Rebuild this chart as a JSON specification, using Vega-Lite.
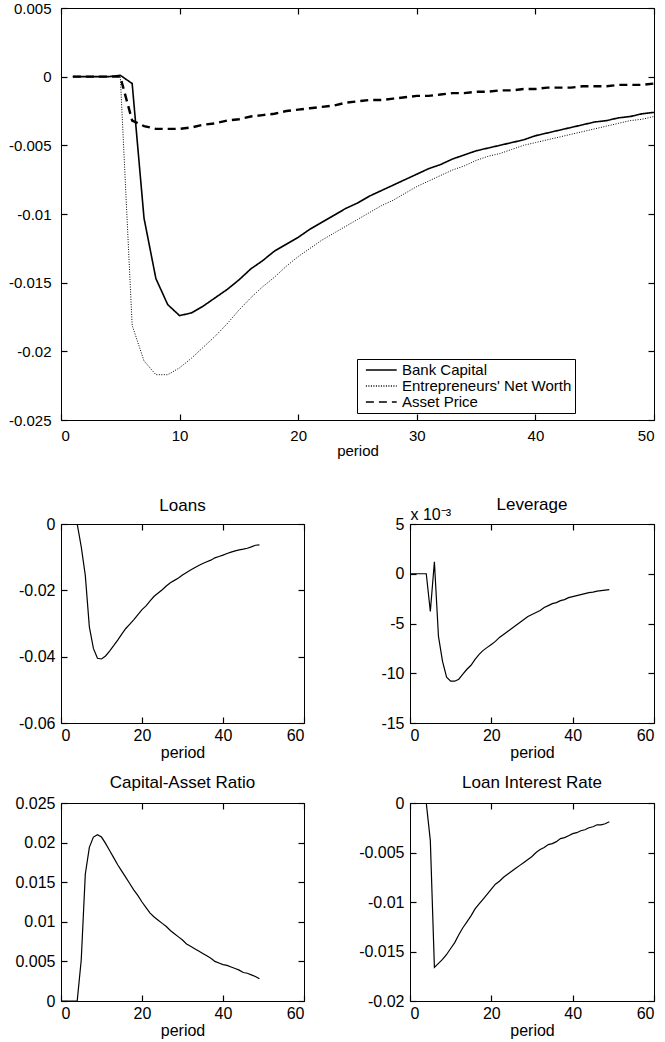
{
  "$schema": "https://vega.github.io/schema/vega-lite/v6.json",
  "padding": {"left": 7, "top": 0, "right": 0, "bottom": 0},
  "config": {
    "font": "Liberation Sans",
    "view": {"stroke": "black", "strokeWidth": 1},
    "axis": {"domain": false, "grid": false, "ticks": true, "tickColor": "black", "tickWidth": 1.2, "tickSize": 6, "offset": -6, "labelColor": "black", "titleColor": "black", "titleFontWeight": "normal", "labelFont": "Liberation Sans", "titleFont": "Liberation Sans"},
    "title": {"fontWeight": "normal", "color": "black", "fontSize": 17, "frame": "group", "font": "Liberation Sans"},
    "legend": {"orient": "none", "legendX": 296, "legendY": 351, "strokeColor": "black", "fillColor": "white", "padding": 3, "symbolType": "M-0.3,0H4.1", "symbolSize": 196, "symbolStrokeColor": "black", "symbolStrokeWidth": 1.5, "labelFontSize": 15, "labelColor": "black", "rowPadding": 0, "labelOffset": 26, "labelLimit": 400, "cornerRadius": 0, "labelFont": "Liberation Sans"}
  },
  "datasets": {
    "top": [
      {"period": 1, "series": "Bank Capital", "value": 0}, {"period": 2, "series": "Bank Capital", "value": 0}, {"period": 3, "series": "Bank Capital", "value": 0}, {"period": 4, "series": "Bank Capital", "value": 0}, {"period": 5, "series": "Bank Capital", "value": 0.0001},
      {"period": 6, "series": "Bank Capital", "value": -0.0005}, {"period": 7, "series": "Bank Capital", "value": -0.0103}, {"period": 8, "series": "Bank Capital", "value": -0.0147}, {"period": 9, "series": "Bank Capital", "value": -0.0166}, {"period": 10, "series": "Bank Capital", "value": -0.0174},
      {"period": 11, "series": "Bank Capital", "value": -0.0172}, {"period": 12, "series": "Bank Capital", "value": -0.0167}, {"period": 13, "series": "Bank Capital", "value": -0.0161}, {"period": 14, "series": "Bank Capital", "value": -0.0155}, {"period": 15, "series": "Bank Capital", "value": -0.0148},
      {"period": 16, "series": "Bank Capital", "value": -0.0140}, {"period": 17, "series": "Bank Capital", "value": -0.0134}, {"period": 18, "series": "Bank Capital", "value": -0.0127}, {"period": 19, "series": "Bank Capital", "value": -0.0122}, {"period": 20, "series": "Bank Capital", "value": -0.0117},
      {"period": 21, "series": "Bank Capital", "value": -0.0111}, {"period": 22, "series": "Bank Capital", "value": -0.0106}, {"period": 23, "series": "Bank Capital", "value": -0.0101}, {"period": 24, "series": "Bank Capital", "value": -0.0096}, {"period": 25, "series": "Bank Capital", "value": -0.0092},
      {"period": 26, "series": "Bank Capital", "value": -0.0087}, {"period": 27, "series": "Bank Capital", "value": -0.0083}, {"period": 28, "series": "Bank Capital", "value": -0.0079}, {"period": 29, "series": "Bank Capital", "value": -0.0075}, {"period": 30, "series": "Bank Capital", "value": -0.0071},
      {"period": 31, "series": "Bank Capital", "value": -0.0067}, {"period": 32, "series": "Bank Capital", "value": -0.0064}, {"period": 33, "series": "Bank Capital", "value": -0.0060}, {"period": 34, "series": "Bank Capital", "value": -0.0057}, {"period": 35, "series": "Bank Capital", "value": -0.0054},
      {"period": 36, "series": "Bank Capital", "value": -0.0052}, {"period": 37, "series": "Bank Capital", "value": -0.0050}, {"period": 38, "series": "Bank Capital", "value": -0.0048}, {"period": 39, "series": "Bank Capital", "value": -0.0046}, {"period": 40, "series": "Bank Capital", "value": -0.0043},
      {"period": 41, "series": "Bank Capital", "value": -0.0041}, {"period": 42, "series": "Bank Capital", "value": -0.0039}, {"period": 43, "series": "Bank Capital", "value": -0.0037}, {"period": 44, "series": "Bank Capital", "value": -0.0035}, {"period": 45, "series": "Bank Capital", "value": -0.0033},
      {"period": 46, "series": "Bank Capital", "value": -0.0032}, {"period": 47, "series": "Bank Capital", "value": -0.0030}, {"period": 48, "series": "Bank Capital", "value": -0.0029}, {"period": 49, "series": "Bank Capital", "value": -0.0027}, {"period": 50, "series": "Bank Capital", "value": -0.0026},
      {"period": 1, "series": "Entrepreneurs' Net Worth", "value": 0}, {"period": 2, "series": "Entrepreneurs' Net Worth", "value": 0}, {"period": 3, "series": "Entrepreneurs' Net Worth", "value": 0}, {"period": 4, "series": "Entrepreneurs' Net Worth", "value": 0}, {"period": 5, "series": "Entrepreneurs' Net Worth", "value": 0},
      {"period": 6, "series": "Entrepreneurs' Net Worth", "value": -0.0181}, {"period": 7, "series": "Entrepreneurs' Net Worth", "value": -0.0207}, {"period": 8, "series": "Entrepreneurs' Net Worth", "value": -0.0217}, {"period": 9, "series": "Entrepreneurs' Net Worth", "value": -0.0217}, {"period": 10, "series": "Entrepreneurs' Net Worth", "value": -0.0212},
      {"period": 11, "series": "Entrepreneurs' Net Worth", "value": -0.0205}, {"period": 12, "series": "Entrepreneurs' Net Worth", "value": -0.0197}, {"period": 13, "series": "Entrepreneurs' Net Worth", "value": -0.0189}, {"period": 14, "series": "Entrepreneurs' Net Worth", "value": -0.0180}, {"period": 15, "series": "Entrepreneurs' Net Worth", "value": -0.0170},
      {"period": 16, "series": "Entrepreneurs' Net Worth", "value": -0.0161}, {"period": 17, "series": "Entrepreneurs' Net Worth", "value": -0.0153}, {"period": 18, "series": "Entrepreneurs' Net Worth", "value": -0.0146}, {"period": 19, "series": "Entrepreneurs' Net Worth", "value": -0.0138}, {"period": 20, "series": "Entrepreneurs' Net Worth", "value": -0.0131},
      {"period": 21, "series": "Entrepreneurs' Net Worth", "value": -0.0125}, {"period": 22, "series": "Entrepreneurs' Net Worth", "value": -0.0119}, {"period": 23, "series": "Entrepreneurs' Net Worth", "value": -0.0114}, {"period": 24, "series": "Entrepreneurs' Net Worth", "value": -0.0109}, {"period": 25, "series": "Entrepreneurs' Net Worth", "value": -0.0104},
      {"period": 26, "series": "Entrepreneurs' Net Worth", "value": -0.0099}, {"period": 27, "series": "Entrepreneurs' Net Worth", "value": -0.0094}, {"period": 28, "series": "Entrepreneurs' Net Worth", "value": -0.0090}, {"period": 29, "series": "Entrepreneurs' Net Worth", "value": -0.0085}, {"period": 30, "series": "Entrepreneurs' Net Worth", "value": -0.0080},
      {"period": 31, "series": "Entrepreneurs' Net Worth", "value": -0.0076}, {"period": 32, "series": "Entrepreneurs' Net Worth", "value": -0.0072}, {"period": 33, "series": "Entrepreneurs' Net Worth", "value": -0.0068}, {"period": 34, "series": "Entrepreneurs' Net Worth", "value": -0.0065}, {"period": 35, "series": "Entrepreneurs' Net Worth", "value": -0.0061},
      {"period": 36, "series": "Entrepreneurs' Net Worth", "value": -0.0058}, {"period": 37, "series": "Entrepreneurs' Net Worth", "value": -0.0056}, {"period": 38, "series": "Entrepreneurs' Net Worth", "value": -0.0053}, {"period": 39, "series": "Entrepreneurs' Net Worth", "value": -0.0050}, {"period": 40, "series": "Entrepreneurs' Net Worth", "value": -0.0048},
      {"period": 41, "series": "Entrepreneurs' Net Worth", "value": -0.0046}, {"period": 42, "series": "Entrepreneurs' Net Worth", "value": -0.0044}, {"period": 43, "series": "Entrepreneurs' Net Worth", "value": -0.0042}, {"period": 44, "series": "Entrepreneurs' Net Worth", "value": -0.0040}, {"period": 45, "series": "Entrepreneurs' Net Worth", "value": -0.0038},
      {"period": 46, "series": "Entrepreneurs' Net Worth", "value": -0.0036}, {"period": 47, "series": "Entrepreneurs' Net Worth", "value": -0.0034}, {"period": 48, "series": "Entrepreneurs' Net Worth", "value": -0.0032}, {"period": 49, "series": "Entrepreneurs' Net Worth", "value": -0.0031}, {"period": 50, "series": "Entrepreneurs' Net Worth", "value": -0.0029},
      {"period": 1, "series": "Asset Price", "value": 0}, {"period": 2, "series": "Asset Price", "value": 0}, {"period": 3, "series": "Asset Price", "value": 0}, {"period": 4, "series": "Asset Price", "value": 0}, {"period": 5, "series": "Asset Price", "value": 0},
      {"period": 6, "series": "Asset Price", "value": -0.0032}, {"period": 7, "series": "Asset Price", "value": -0.0036}, {"period": 8, "series": "Asset Price", "value": -0.0038}, {"period": 9, "series": "Asset Price", "value": -0.0038}, {"period": 10, "series": "Asset Price", "value": -0.0038},
      {"period": 11, "series": "Asset Price", "value": -0.0037}, {"period": 12, "series": "Asset Price", "value": -0.0035}, {"period": 13, "series": "Asset Price", "value": -0.0034}, {"period": 14, "series": "Asset Price", "value": -0.0032}, {"period": 15, "series": "Asset Price", "value": -0.0031},
      {"period": 16, "series": "Asset Price", "value": -0.0029}, {"period": 17, "series": "Asset Price", "value": -0.0028}, {"period": 18, "series": "Asset Price", "value": -0.0027}, {"period": 19, "series": "Asset Price", "value": -0.0025}, {"period": 20, "series": "Asset Price", "value": -0.0024},
      {"period": 21, "series": "Asset Price", "value": -0.0023}, {"period": 22, "series": "Asset Price", "value": -0.0022}, {"period": 23, "series": "Asset Price", "value": -0.0021}, {"period": 24, "series": "Asset Price", "value": -0.0019}, {"period": 25, "series": "Asset Price", "value": -0.0018},
      {"period": 26, "series": "Asset Price", "value": -0.0017}, {"period": 27, "series": "Asset Price", "value": -0.0017}, {"period": 28, "series": "Asset Price", "value": -0.0016}, {"period": 29, "series": "Asset Price", "value": -0.0015}, {"period": 30, "series": "Asset Price", "value": -0.0014},
      {"period": 31, "series": "Asset Price", "value": -0.0014}, {"period": 32, "series": "Asset Price", "value": -0.0013}, {"period": 33, "series": "Asset Price", "value": -0.0012}, {"period": 34, "series": "Asset Price", "value": -0.0012}, {"period": 35, "series": "Asset Price", "value": -0.0011},
      {"period": 36, "series": "Asset Price", "value": -0.0011}, {"period": 37, "series": "Asset Price", "value": -0.0010}, {"period": 38, "series": "Asset Price", "value": -0.0010}, {"period": 39, "series": "Asset Price", "value": -0.0009}, {"period": 40, "series": "Asset Price", "value": -0.0009},
      {"period": 41, "series": "Asset Price", "value": -0.0008}, {"period": 42, "series": "Asset Price", "value": -0.0008}, {"period": 43, "series": "Asset Price", "value": -0.0008}, {"period": 44, "series": "Asset Price", "value": -0.0007}, {"period": 45, "series": "Asset Price", "value": -0.0007},
      {"period": 46, "series": "Asset Price", "value": -0.0007}, {"period": 47, "series": "Asset Price", "value": -0.0006}, {"period": 48, "series": "Asset Price", "value": -0.0006}, {"period": 49, "series": "Asset Price", "value": -0.0006}, {"period": 50, "series": "Asset Price", "value": -0.0005}
    ],
    "loans": [
      {"period": 0, "value": 0}, {"period": 1, "value": 0}, {"period": 2, "value": 0}, {"period": 3, "value": 0}, {"period": 4, "value": 0},
      {"period": 5, "value": -0.0069}, {"period": 6, "value": -0.0155}, {"period": 7, "value": -0.031}, {"period": 8, "value": -0.0375}, {"period": 9, "value": -0.0405},
      {"period": 10, "value": -0.0407}, {"period": 11, "value": -0.0398}, {"period": 12, "value": -0.0383}, {"period": 13, "value": -0.0367}, {"period": 14, "value": -0.0350},
      {"period": 15, "value": -0.0332}, {"period": 16, "value": -0.0315}, {"period": 17, "value": -0.0302}, {"period": 18, "value": -0.0288}, {"period": 19, "value": -0.0273},
      {"period": 20, "value": -0.0258}, {"period": 21, "value": -0.0247}, {"period": 22, "value": -0.0232}, {"period": 23, "value": -0.0218}, {"period": 24, "value": -0.0208},
      {"period": 25, "value": -0.0198}, {"period": 26, "value": -0.0187}, {"period": 27, "value": -0.0177}, {"period": 28, "value": -0.0170}, {"period": 29, "value": -0.0163},
      {"period": 30, "value": -0.0154}, {"period": 31, "value": -0.0146}, {"period": 32, "value": -0.0139}, {"period": 33, "value": -0.0132}, {"period": 34, "value": -0.0125},
      {"period": 35, "value": -0.0119}, {"period": 36, "value": -0.0114}, {"period": 37, "value": -0.0109}, {"period": 38, "value": -0.0102}, {"period": 39, "value": -0.0098},
      {"period": 40, "value": -0.0094}, {"period": 41, "value": -0.0089}, {"period": 42, "value": -0.0085}, {"period": 43, "value": -0.0081}, {"period": 44, "value": -0.0078},
      {"period": 45, "value": -0.0076}, {"period": 46, "value": -0.0073}, {"period": 47, "value": -0.0069}, {"period": 48, "value": -0.0064}, {"period": 49, "value": -0.0063}
    ],
    "leverage": [
      {"period": 0, "value": 0}, {"period": 1, "value": 0}, {"period": 2, "value": 0}, {"period": 3, "value": 0}, {"period": 4, "value": 0},
      {"period": 5, "value": -0.0038}, {"period": 6, "value": 0.0012}, {"period": 7, "value": -0.0063}, {"period": 8, "value": -0.0088}, {"period": 9, "value": -0.0104},
      {"period": 10, "value": -0.0108}, {"period": 11, "value": -0.0108}, {"period": 12, "value": -0.0106}, {"period": 13, "value": -0.0101}, {"period": 14, "value": -0.0096},
      {"period": 15, "value": -0.0092}, {"period": 16, "value": -0.0086}, {"period": 17, "value": -0.0081}, {"period": 18, "value": -0.0077}, {"period": 19, "value": -0.0074},
      {"period": 20, "value": -0.0071}, {"period": 21, "value": -0.0068}, {"period": 22, "value": -0.0064}, {"period": 23, "value": -0.0061}, {"period": 24, "value": -0.0058},
      {"period": 25, "value": -0.0055}, {"period": 26, "value": -0.0052}, {"period": 27, "value": -0.0049}, {"period": 28, "value": -0.0046}, {"period": 29, "value": -0.0043},
      {"period": 30, "value": -0.0041}, {"period": 31, "value": -0.0039}, {"period": 32, "value": -0.0037}, {"period": 33, "value": -0.0034}, {"period": 34, "value": -0.0032},
      {"period": 35, "value": -0.0030}, {"period": 36, "value": -0.0029}, {"period": 37, "value": -0.0027}, {"period": 38, "value": -0.0026}, {"period": 39, "value": -0.0024},
      {"period": 40, "value": -0.0023}, {"period": 41, "value": -0.0022}, {"period": 42, "value": -0.0021}, {"period": 43, "value": -0.0020}, {"period": 44, "value": -0.0019},
      {"period": 45, "value": -0.00185}, {"period": 46, "value": -0.00175}, {"period": 47, "value": -0.0017}, {"period": 48, "value": -0.00165}, {"period": 49, "value": -0.0016}
    ],
    "car": [
      {"period": 0, "value": 0}, {"period": 1, "value": 0}, {"period": 2, "value": 0}, {"period": 3, "value": 0}, {"period": 4, "value": 0},
      {"period": 5, "value": 0.0052}, {"period": 6, "value": 0.0160}, {"period": 7, "value": 0.0194}, {"period": 8, "value": 0.0207}, {"period": 9, "value": 0.0210},
      {"period": 10, "value": 0.0207}, {"period": 11, "value": 0.0199}, {"period": 12, "value": 0.0190}, {"period": 13, "value": 0.0181}, {"period": 14, "value": 0.0172},
      {"period": 15, "value": 0.0164}, {"period": 16, "value": 0.0156}, {"period": 17, "value": 0.0148}, {"period": 18, "value": 0.0140}, {"period": 19, "value": 0.0133},
      {"period": 20, "value": 0.0125}, {"period": 21, "value": 0.0118}, {"period": 22, "value": 0.0111}, {"period": 23, "value": 0.0106}, {"period": 24, "value": 0.0102},
      {"period": 25, "value": 0.0098}, {"period": 26, "value": 0.0094}, {"period": 27, "value": 0.0089}, {"period": 28, "value": 0.0085}, {"period": 29, "value": 0.0081},
      {"period": 30, "value": 0.0077}, {"period": 31, "value": 0.0072}, {"period": 32, "value": 0.0069}, {"period": 33, "value": 0.0066}, {"period": 34, "value": 0.0063},
      {"period": 35, "value": 0.0060}, {"period": 36, "value": 0.0057}, {"period": 37, "value": 0.0054}, {"period": 38, "value": 0.0050}, {"period": 39, "value": 0.0048},
      {"period": 40, "value": 0.0046}, {"period": 41, "value": 0.0045}, {"period": 42, "value": 0.0043}, {"period": 43, "value": 0.0041}, {"period": 44, "value": 0.0039},
      {"period": 45, "value": 0.0036}, {"period": 46, "value": 0.0035}, {"period": 47, "value": 0.0033}, {"period": 48, "value": 0.0031}, {"period": 49, "value": 0.0028}
    ],
    "lir": [
      {"period": 0, "value": 0}, {"period": 1, "value": 0}, {"period": 2, "value": 0}, {"period": 3, "value": 0}, {"period": 4, "value": 0},
      {"period": 5, "value": -0.0038}, {"period": 6, "value": -0.0166}, {"period": 7, "value": -0.0162}, {"period": 8, "value": -0.0158}, {"period": 9, "value": -0.0153},
      {"period": 10, "value": -0.0147}, {"period": 11, "value": -0.0141}, {"period": 12, "value": -0.0133}, {"period": 13, "value": -0.0126}, {"period": 14, "value": -0.0120},
      {"period": 15, "value": -0.0114}, {"period": 16, "value": -0.0107}, {"period": 17, "value": -0.0102}, {"period": 18, "value": -0.0097}, {"period": 19, "value": -0.0092},
      {"period": 20, "value": -0.0087}, {"period": 21, "value": -0.0082}, {"period": 22, "value": -0.0079}, {"period": 23, "value": -0.0075}, {"period": 24, "value": -0.0072},
      {"period": 25, "value": -0.0069}, {"period": 26, "value": -0.0066}, {"period": 27, "value": -0.0063}, {"period": 28, "value": -0.0060}, {"period": 29, "value": -0.0057},
      {"period": 30, "value": -0.0054}, {"period": 31, "value": -0.0050}, {"period": 32, "value": -0.0047}, {"period": 33, "value": -0.0045}, {"period": 34, "value": -0.0042},
      {"period": 35, "value": -0.0041}, {"period": 36, "value": -0.0039}, {"period": 37, "value": -0.0036}, {"period": 38, "value": -0.0035}, {"period": 39, "value": -0.0033},
      {"period": 40, "value": -0.0031}, {"period": 41, "value": -0.0030}, {"period": 42, "value": -0.0028}, {"period": 43, "value": -0.0027}, {"period": 44, "value": -0.0025},
      {"period": 45, "value": -0.0024}, {"period": 46, "value": -0.0022}, {"period": 47, "value": -0.0022}, {"period": 48, "value": -0.0021}, {"period": 49, "value": -0.0019}
    ]
  },
  "spacing": 36,
  "vconcat": [
    {
      "width": 593, "height": 412,
      "data": {"name": "top"},
      "layer": [
        {
          "transform": [{"filter": "datum.series === 'Bank Capital'"}],
          "mark": {"type": "line", "color": "black", "strokeWidth": 1.6, "clip": true},
          "encoding": {
            "x": {"field": "period", "type": "quantitative", "scale": {"domain": [0, 50], "nice": false}, "axis": {"orient": "bottom", "values": [0, 10, 20, 30, 40, 50], "title": "period", "labelFontSize": 15, "titleFontSize": 15, "labelPadding": 8, "titlePadding": 0}},
            "y": {"field": "value", "type": "quantitative", "scale": {"domain": [-0.025, 0.005], "nice": false, "zero": false}, "axis": {"orient": "left", "values": [0.005, 0, -0.005, -0.01, -0.015, -0.02, -0.025], "labelExpr": "'' + datum.value", "title": null, "labelFontSize": 15, "labelPadding": 10}},
            "strokeDash": {"field": "series", "type": "nominal", "scale": {"domain": ["Bank Capital", "Entrepreneurs' Net Worth", "Asset Price"], "range": [[1, 0], [1, 1.5], [8, 5]]}, "legend": {"title": null}}
          }
        },
        {
          "transform": [{"filter": "datum.series === 'Entrepreneurs\\' Net Worth'"}],
          "mark": {"type": "line", "color": "black", "strokeWidth": 1, "clip": true},
          "encoding": {
            "x": {"field": "period", "type": "quantitative", "axis": null},
            "y": {"field": "value", "type": "quantitative", "axis": null},
            "strokeDash": {"field": "series", "type": "nominal", "legend": {"title": null}}
          }
        },
        {
          "transform": [{"filter": "datum.series === 'Asset Price'"}],
          "mark": {"type": "line", "color": "black", "strokeWidth": 2.4, "clip": true},
          "encoding": {
            "x": {"field": "period", "type": "quantitative", "axis": null},
            "y": {"field": "value", "type": "quantitative", "axis": null},
            "strokeDash": {"field": "series", "type": "nominal", "legend": {"title": null}}
          }
        },
        {
          "mark": {"type": "point", "opacity": 0},
          "encoding": {
            "x": {"field": "period", "type": "quantitative", "axis": {"orient": "top", "values": [0, 10, 20, 30, 40, 50], "labels": false, "title": null}},
            "y": {"field": "value", "type": "quantitative", "axis": {"orient": "right", "values": [0.005, 0, -0.005, -0.01, -0.015, -0.02, -0.025], "labels": false, "title": null}}
          }
        }
      ],
      "resolve": {"axis": {"x": "independent", "y": "independent"}}
    },
    {
      "spacing": 12,
      "vconcat": [
        {
          "spacing": 74,
          "hconcat": [
            {
              "width": 243, "height": 199,
              "data": {"name": "loans"},
              "title": {"text": "Loans", "offset": 1},
              "layer": [
                {"mark": {"type": "line", "color": "black", "strokeWidth": 1.2, "clip": true},
                 "encoding": {
                   "x": {"field": "period", "type": "quantitative", "scale": {"domain": [0, 60], "nice": false}, "axis": {"orient": "bottom", "values": [0, 20, 40, 60], "title": "period", "labelFontSize": 16, "titleFontSize": 16, "labelPadding": 4, "titlePadding": 1}},
                   "y": {"field": "value", "type": "quantitative", "scale": {"domain": [-0.06, 0], "nice": false, "zero": false}, "axis": {"orient": "left", "values": [0, -0.02, -0.04, -0.06], "labelExpr": "'' + datum.value", "title": null, "labelFontSize": 16, "labelPadding": 6}}
                 }},
                {"mark": {"type": "point", "opacity": 0},
                 "encoding": {
                   "x": {"field": "period", "type": "quantitative", "axis": {"orient": "top", "values": [0, 20, 40, 60], "labels": false, "title": null}},
                   "y": {"field": "value", "type": "quantitative", "axis": {"orient": "right", "values": [0, -0.02, -0.04, -0.06], "labels": false, "title": null}}
                 }}
              ],
              "resolve": {"axis": {"x": "independent", "y": "independent"}}
            },
            {
              "width": 244, "height": 199,
              "data": {"name": "leverage"},
              "title": {"text": "Leverage", "offset": -8},
              "layer": [
                {"mark": {"type": "line", "color": "black", "strokeWidth": 1.2, "clip": true},
                 "encoding": {
                   "x": {"field": "period", "type": "quantitative", "scale": {"domain": [0, 60], "nice": false}, "axis": {"orient": "bottom", "values": [0, 20, 40, 60], "title": "period", "labelFontSize": 16, "titleFontSize": 16, "labelPadding": 4, "titlePadding": 1}},
                   "y": {"field": "value", "type": "quantitative", "scale": {"domain": [-0.015, 0.005], "nice": false, "zero": false}, "axis": {"orient": "left", "values": [0.005, 0, -0.005, -0.01, -0.015], "labelExpr": "'' + round(datum.value * 1000)", "title": "x 10⁻³", "titleAngle": 0, "titleX": -6, "titleY": -5, "titleAlign": "left", "titleBaseline": "alphabetic", "titleFontSize": 16, "labelFontSize": 16, "labelPadding": 6}}
                 }},
                {"mark": {"type": "point", "opacity": 0},
                 "encoding": {
                   "x": {"field": "period", "type": "quantitative", "axis": {"orient": "top", "values": [0, 20, 40, 60], "labels": false, "title": null}},
                   "y": {"field": "value", "type": "quantitative", "axis": {"orient": "right", "values": [0.005, 0, -0.005, -0.01, -0.015], "labels": false, "title": null}}
                 }}
              ],
              "resolve": {"axis": {"x": "independent", "y": "independent"}}
            }
          ]
        },
        {
          "spacing": 52,
          "hconcat": [
            {
              "width": 243, "height": 198,
              "data": {"name": "car"},
              "title": {"text": "Capital-Asset Ratio", "offset": 3},
              "layer": [
                {"mark": {"type": "line", "color": "black", "strokeWidth": 1.2, "clip": true},
                 "encoding": {
                   "x": {"field": "period", "type": "quantitative", "scale": {"domain": [0, 60], "nice": false}, "axis": {"orient": "bottom", "values": [0, 20, 40, 60], "title": "period", "labelFontSize": 16, "titleFontSize": 16, "labelPadding": 4, "titlePadding": 1}},
                   "y": {"field": "value", "type": "quantitative", "scale": {"domain": [0, 0.025], "nice": false, "zero": false}, "axis": {"orient": "left", "values": [0.025, 0.02, 0.015, 0.01, 0.005, 0], "labelExpr": "'' + datum.value", "title": null, "labelFontSize": 16, "labelPadding": 6}}
                 }},
                {"mark": {"type": "point", "opacity": 0},
                 "encoding": {
                   "x": {"field": "period", "type": "quantitative", "axis": {"orient": "top", "values": [0, 20, 40, 60], "labels": false, "title": null}},
                   "y": {"field": "value", "type": "quantitative", "axis": {"orient": "right", "values": [0.025, 0.02, 0.015, 0.01, 0.005, 0], "labels": false, "title": null}}
                 }}
              ],
              "resolve": {"axis": {"x": "independent", "y": "independent"}}
            },
            {
              "width": 244, "height": 198,
              "data": {"name": "lir"},
              "title": {"text": "Loan Interest Rate", "offset": 3},
              "layer": [
                {"mark": {"type": "line", "color": "black", "strokeWidth": 1.2, "clip": true},
                 "encoding": {
                   "x": {"field": "period", "type": "quantitative", "scale": {"domain": [0, 60], "nice": false}, "axis": {"orient": "bottom", "values": [0, 20, 40, 60], "title": "period", "labelFontSize": 16, "titleFontSize": 16, "labelPadding": 4, "titlePadding": 1}},
                   "y": {"field": "value", "type": "quantitative", "scale": {"domain": [-0.02, 0], "nice": false, "zero": false}, "axis": {"orient": "left", "values": [0, -0.005, -0.01, -0.015, -0.02], "labelExpr": "'' + datum.value", "title": null, "labelFontSize": 16, "labelPadding": 6}}
                 }},
                {"mark": {"type": "point", "opacity": 0},
                 "encoding": {
                   "x": {"field": "period", "type": "quantitative", "axis": {"orient": "top", "values": [0, 20, 40, 60], "labels": false, "title": null}},
                   "y": {"field": "value", "type": "quantitative", "axis": {"orient": "right", "values": [0, -0.005, -0.01, -0.015, -0.02], "labels": false, "title": null}}
                 }}
              ],
              "resolve": {"axis": {"x": "independent", "y": "independent"}}
            }
          ]
        }
      ]
    }
  ]
}
